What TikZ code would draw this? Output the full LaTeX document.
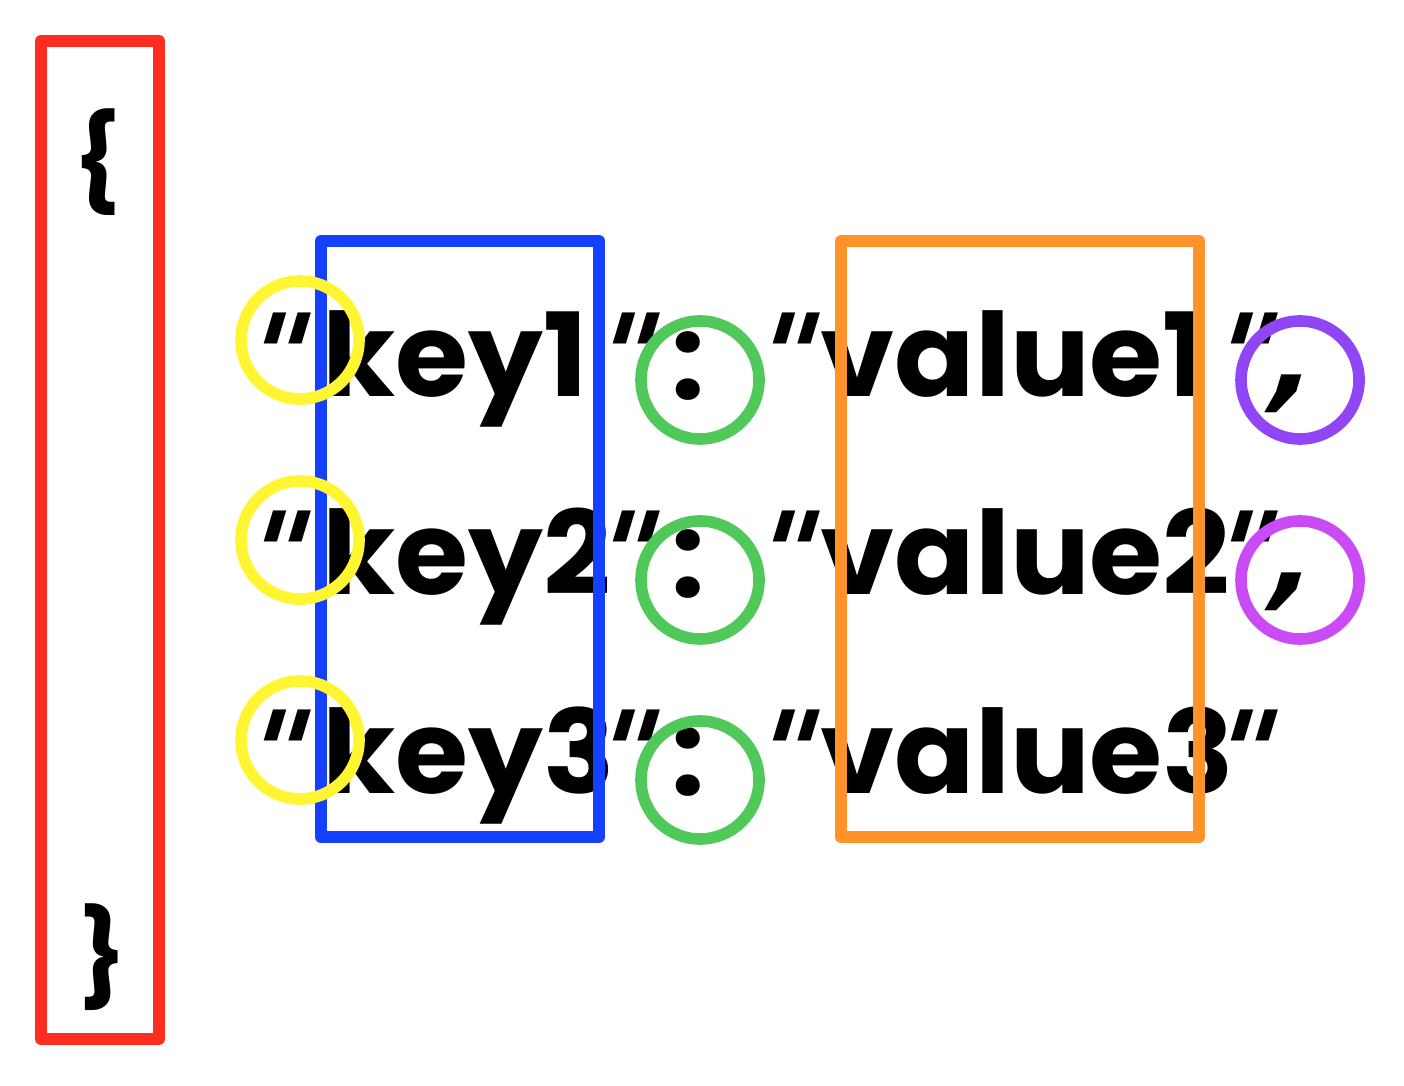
\documentclass[tikz,border=0pt]{standalone}
\usepackage{fontspec}
\setmainfont{Poppins}
\newfontfamily\wordfont[UprightFont=* Bold, FakeStretch=1.02]{Poppins}
\newfontfamily\quotefont[UprightFont=* Bold, FakeSlant=0.3]{DejaVu Sans}

\definecolor{objred}{HTML}{FF2D20}
\definecolor{keyblue}{HTML}{1440FF}
\definecolor{valorange}{HTML}{FF9228}
\definecolor{quoteyellow}{HTML}{FFF533}
\definecolor{colongreen}{HTML}{50C85A}
\definecolor{commapurple}{HTML}{9146F5}
\definecolor{commaviolet}{HTML}{C84BF5}

\begin{document}
\begin{tikzpicture}[x=0.01cm, y=-0.01cm,
    txt/.style={inner sep=0pt, anchor=base west, font=\fontsize{33}{36}\selectfont\wordfont},
    qt/.style={inner sep=0pt, anchor=base, font=\fontsize{32.6}{36}\selectfont\quotefont},
    colon/.style={inner sep=0pt, anchor=center, font=\fontsize{33}{36}\selectfont\wordfont},
    brace/.style={inner sep=0pt, font=\fontsize{27}{30}\selectfont\wordfont},
    frame/.style={line width=3.4pt, line join=round},
    ring/.style={line width=3.3pt}]
  \useasboundingbox (0,0) rectangle (1404,1086);
  % outer object braces
  \node[brace] (open) at (98,162) {\{};
  \node[brace] (close) at (103,957) {\}};
  % row 1
  \node[qt] (q1a) at (267,397) {"};
  \node[txt] (k1) at (322,397) {key1};
  \node[qt] (q1b) at (616,397) {"};
  \node[colon] (c1) at (688,366) {:};
  \node[qt] (q1c) at (776,397) {"};
  \node[txt] (v1) at (820,397) {value1};
  \node[qt] (q1d) at (1234,397) {"};
  \node[qt] (m1) at (1285,397) {,};
  % row 2
  \node[qt] (q2a) at (267,595) {"};
  \node[txt] (k2) at (322,595) {key2};
  \node[qt] (q2b) at (616,595) {"};
  \node[colon] (c2) at (688,564) {:};
  \node[qt] (q2c) at (776,595) {"};
  \node[txt] (v2) at (820,595) {value2};
  \node[qt] (q2d) at (1234,595) {"};
  \node[qt] (m2) at (1285,595) {,};
  % row 3
  \node[qt] (q3a) at (267,793) {"};
  \node[txt] (k3) at (322,793) {key3};
  \node[qt] (q3b) at (616,793) {"};
  \node[colon] (c3) at (688,762) {:};
  \node[qt] (q3c) at (776,793) {"};
  \node[txt] (v3) at (820,793) {value3};
  \node[qt] (q3d) at (1234,793) {"};
  % boxes
  \draw[frame, objred] (41,41) rectangle (159,1039);
  \draw[frame, keyblue] (321,241) rectangle (599,837);
  \draw[frame, valorange] (841,241) rectangle (1199,837);
  % quote rings
  \draw[ring, quoteyellow] (300,340) circle[radius=59];
  \draw[ring, quoteyellow] (300,540) circle[radius=59];
  \draw[ring, quoteyellow] (300,740) circle[radius=59];
  % colon rings
  \draw[ring, colongreen] (700,380) circle[radius=59];
  \draw[ring, colongreen] (700,580) circle[radius=59];
  \draw[ring, colongreen] (700,780) circle[radius=59];
  % comma rings
  \draw[ring, commapurple] (1300,380) circle[radius=59];
  \draw[ring, commaviolet] (1300,580) circle[radius=59];
\end{tikzpicture}
\end{document}
